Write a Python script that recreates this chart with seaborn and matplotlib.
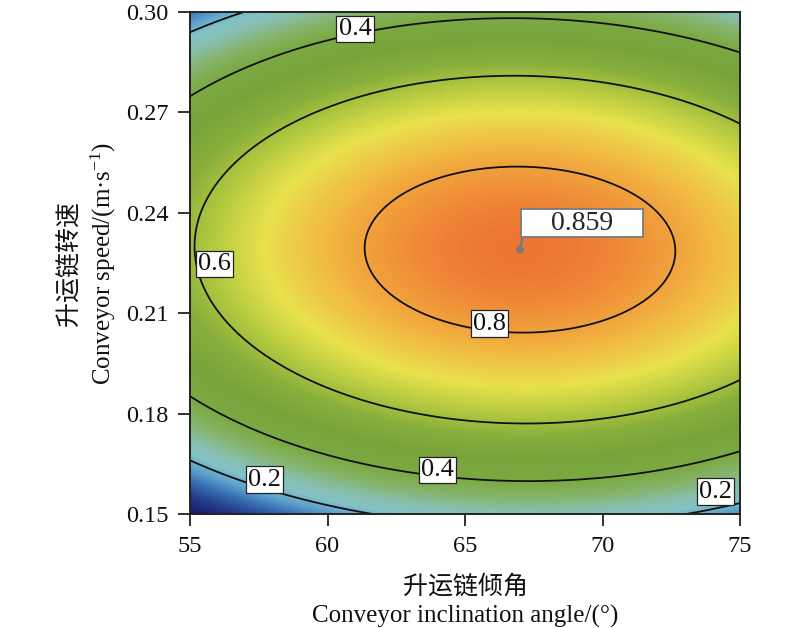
import numpy as np
import matplotlib
matplotlib.use("Agg")
import matplotlib.pyplot as plt
from matplotlib.colors import LinearSegmentedColormap
import seaborn as sns

# factor ranges / ticks
angle_range = [55, 75]
speed_range = [0.15, 0.30]
angle_ticks = [55, 60, 65, 70, 75]
speed_ticks = [0.15, 0.18, 0.21, 0.24, 0.27, 0.30]

# desirability response surface (quadratic, coded units)
d_max = 0.859
opt_angle = 67.0
opt_speed = 0.229
k_angle = 0.185
k_speed = 0.54
k_cross = -0.012

contour_levels = [0.2, 0.4, 0.6, 0.8]
label_spots = [(61.0, 0.2950), (55.9, 0.2248), (65.9, 0.2069),
               (64.0, 0.1632), (57.7, 0.1603), (74.1, 0.1567)]

# colour scale (Design-Expert like)
cmap_stops = [0.0, 0.06, 0.12, 0.17, 0.22, 0.27, 0.33, 0.39, 0.48, 0.56, 0.63, 0.70, 0.77, 0.83, 0.86]
cmap_colors = ['#1a2170', '#253f8f', '#3a70b4', '#5da2cc', '#84c2c6', '#88bfae', '#86b46c',
               '#7caa44', '#77a33a', '#88af3c', '#b5ca40', '#e9e24c', '#f2b842', '#f08e38', '#ed7633']

sns.set_theme(style="ticks")
plt.rcParams['font.family'] = ['Liberation Serif', 'Noto Sans CJK SC']
plt.rcParams['mathtext.fontset'] = 'custom'
plt.rcParams['mathtext.rm'] = 'Liberation Serif'
plt.rcParams['mathtext.it'] = 'Liberation Serif:italic'

cmap = LinearSegmentedColormap.from_list(
    "desir", [(v / cmap_stops[-1], c) for v, c in zip(cmap_stops, cmap_colors)])

xs = np.linspace(angle_range[0], angle_range[1], 400)
ys = np.linspace(speed_range[0], speed_range[1], 400)
X, Y = np.meshgrid(xs, ys)
da = (X - opt_angle) / 10.0
db = (Y - opt_speed) / 0.075
D = d_max - k_angle * da ** 2 - k_speed * db ** 2 + k_cross * da * db
D = np.clip(D, 0, 1)

fig = plt.figure(figsize=(8, 6.28), dpi=100)
ax = fig.add_axes([0.2375, 0.1815, 0.6875, 0.7994])

ax.imshow(D, extent=[angle_range[0], angle_range[1], speed_range[0], speed_range[1]],
          origin='lower', aspect='auto', cmap=cmap, vmin=0, vmax=cmap_stops[-1],
          interpolation='bilinear')

cs = ax.contour(X, Y, D, levels=contour_levels, colors='#111111', linewidths=1.3)
labels = ax.clabel(cs, fmt='%.1f', fontsize=19, inline=False, manual=label_spots)
for t, spot in zip(labels, label_spots):
    t.set_rotation(0)
    t.set_position(spot)
    t.set_bbox(dict(boxstyle='square,pad=0.08', fc='white', ec='#222222', lw=0.9))
    t.set_zorder(5)
    t.set_clip_on(False)

# optimum point with flag label
sns.scatterplot(x=[opt_angle], y=[opt_speed], color='#7a7a7a', s=30,
                edgecolor='none', ax=ax, zorder=6)
ax.annotate(f"    {d_max:.3f}    ", xy=(opt_angle, opt_speed),
            xytext=(3, 14), textcoords='offset pixels', ha='left', va='bottom',
            fontsize=20, zorder=7,
            bbox=dict(boxstyle='square,pad=0.06', fc='white', ec='#7a7a7a', lw=1.3),
            arrowprops=dict(arrowstyle='-', color='#7a7a7a', lw=1.8,
                            shrinkA=0, shrinkB=0, relpos=(0, 0)))

ax.set_xlim(angle_range)
ax.set_ylim(speed_range)
ax.set_xticks(angle_ticks)
ax.set_yticks(speed_ticks)
ax.set_xticklabels([str(v) for v in angle_ticks])
ax.set_yticklabels([f"{v:.2f}" for v in speed_ticks])
ax.tick_params(axis='both', direction='out', length=8.5, width=1.3, color='#222222',
               labelsize=17.5, labelcolor='#111111', pad=7)
for s in ax.spines.values():
    s.set_color('#222222')
    s.set_linewidth(1.4)

ax.set_xlabel("升运链倾角\nConveyor inclination angle/(°)", fontsize=18,
              color='#111111', labelpad=13, linespacing=1.4)
ax.set_ylabel("升运链转速\nConveyor speed/(m·s$^{-1}$)", fontsize=18,
              color='#111111', labelpad=6, linespacing=1.3)

fig.savefig("out.png", dpi=100)
